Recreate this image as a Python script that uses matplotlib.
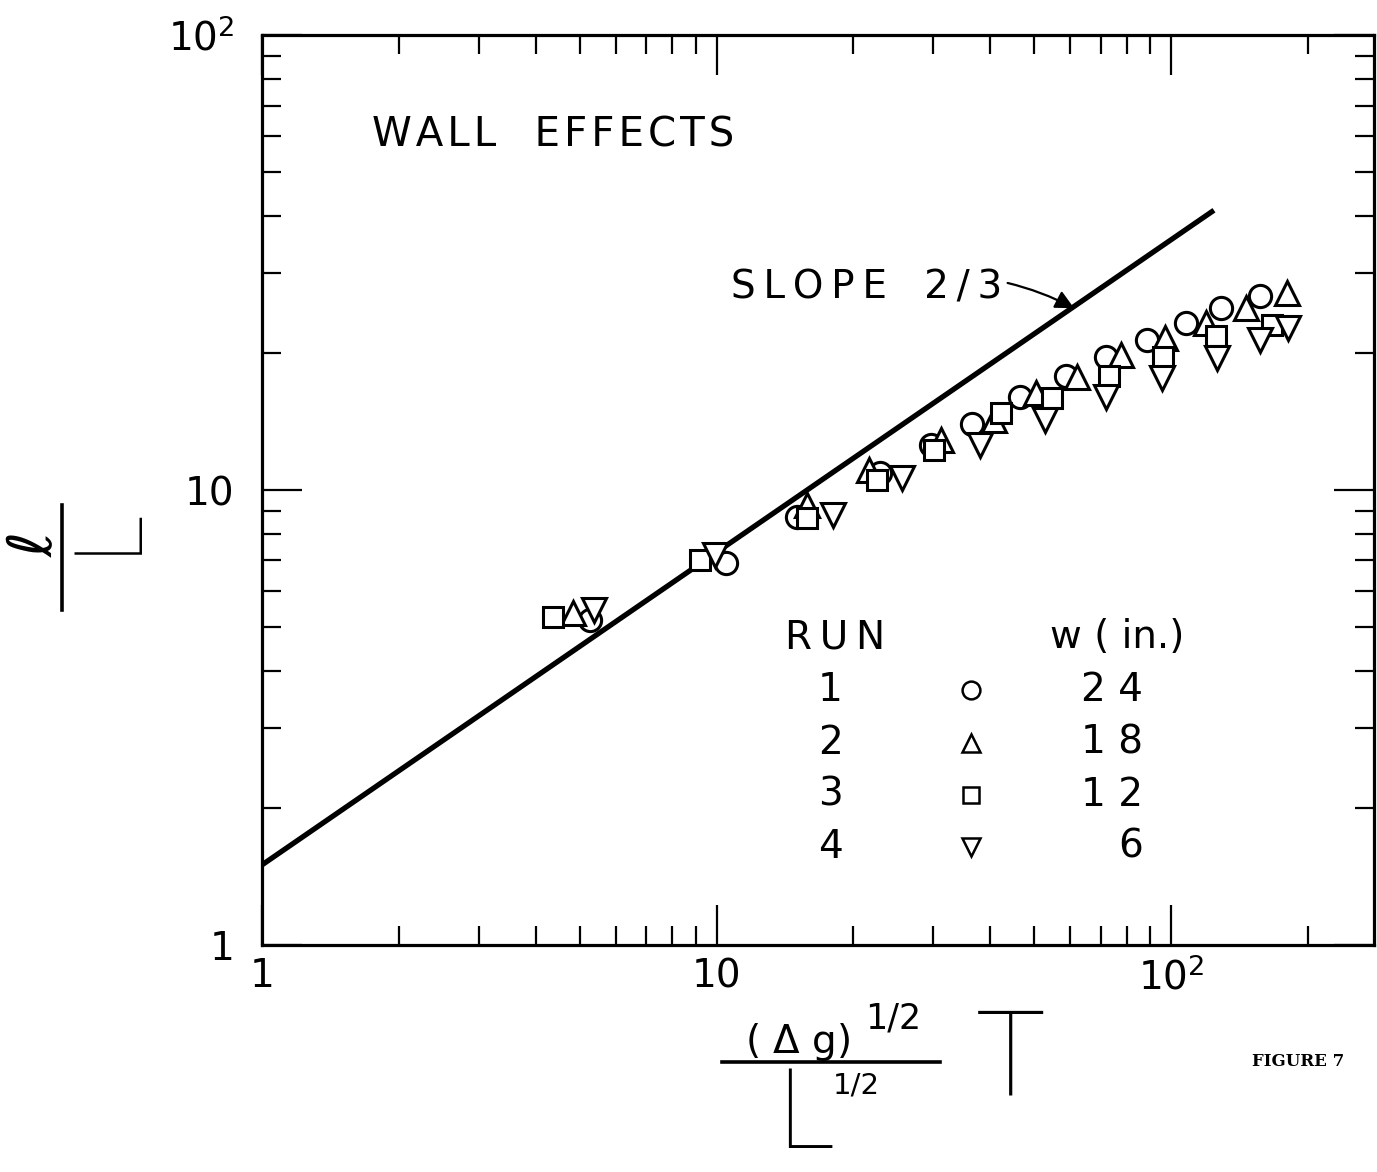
import matplotlib.pyplot as plt
from matplotlib.lines import Line2D
from matplotlib.ticker import FixedLocator, FixedFormatter, NullFormatter

# Run 1 (w = 24 in.)  circles
run1_x = [5.26, 10.47, 15.07, 22.9, 29.7, 36.5, 46.6, 58.8, 72.0, 88.5, 107.9, 128.8, 157.0]
run1_y = [5.18, 6.91, 8.72, 10.9, 12.56, 14.0, 16.0, 17.8, 19.6, 21.4, 23.3, 25.1, 26.7]
# Run 2 (w = 18 in.)  triangles
run2_x = [4.83, 15.85, 21.7, 31.2, 40.8, 50.5, 62.1, 77.6, 97.0, 119.4, 146.2, 179.8]
run2_y = [5.37, 9.27, 11.07, 12.88, 14.25, 16.3, 17.7, 19.8, 21.6, 23.3, 25.1, 27.1]
# Run 3 (w = 12 in.)  squares
run3_x = [4.36, 9.18, 15.85, 22.5, 30.1, 42.3, 54.8, 73.1, 96.0, 125.6, 166.7]
run3_y = [5.26, 7.02, 8.68, 10.5, 12.24, 14.8, 15.9, 17.8, 19.6, 21.8, 23.0]
# Run 4 (w = 6 in.)  inverted triangles
run4_x = [5.37, 9.9, 18.07, 25.6, 38.0, 52.8, 72.0, 95.5, 126.2, 157.0, 180.8]
run4_y = [5.45, 7.2, 8.81, 10.63, 12.56, 14.25, 16.0, 17.6, 19.5, 21.4, 22.7]

# slope 2/3 reference line
line_x = [1.0, 124.3]
line_y = [1.5, 41.2]

runs = ['1', '2', '3', '4']
widths = ['24', '18', '12', '6']
markers = ['o', '^', 's', 'v']

x_major = [1, 10, 100]
x_labels = ['1', '10', '$10^2$']
y_major = [1, 10, 100]
y_labels = ['1', '10', '$10^2$']

plt.rcParams['font.family'] = ['DejaVu Sans']
THIN = '\u2009'
HAIR = '\u200a'
THIN_FONT = ['Roboto', 'DejaVu Sans']


def spaced(s, sep=THIN):
    # lettering on the original is widely spaced
    return sep.join(s)


fig = plt.figure(figsize=(13.77, 11.72), dpi=100)
ax = fig.add_axes([0.1903, 0.1937, 0.8077, 0.7764])
ax.set_xscale('log')
ax.set_yscale('log')
ax.set_xlim(1, 280)
ax.set_ylim(1, 100)

ax.plot(line_x, line_y, color='black', lw=3.8, solid_capstyle='butt', zorder=2)

series = [(run1_x, run1_y), (run2_x, run2_y), (run3_x, run3_y), (run4_x, run4_y)]
sizes = {'o': 16, '^': 17, 's': 14, 'v': 17}
for (xs, ys), m in zip(series, markers):
    ax.plot(xs, ys, linestyle='none', marker=m, ms=sizes[m], mfc='white',
            mec='black', mew=2.2, zorder=3)

ax.xaxis.set_major_locator(FixedLocator(x_major))
ax.xaxis.set_major_formatter(FixedFormatter(x_labels))
ax.yaxis.set_major_locator(FixedLocator(y_major))
ax.yaxis.set_major_formatter(FixedFormatter(y_labels))
ax.xaxis.set_minor_formatter(NullFormatter())
ax.yaxis.set_minor_formatter(NullFormatter())

ax.tick_params(which='both', direction='in', top=True, right=True,
               width=1.6, labelsize=28, color='black')
ax.tick_params(which='major', length=29)
ax.tick_params(which='minor', length=14)
ax.tick_params(axis='x', pad=9)
ax.tick_params(axis='y', pad=20)
for s in ax.spines.values():
    s.set_linewidth(2.3)

ax.text(0.099, 0.89, spaced('WALL', HAIR) + '   ' + spaced('EFFECTS', HAIR),
        transform=ax.transAxes, fontsize=29, ha='left', va='center')

ax.annotate(spaced('SLOPE') + '   ' + spaced('2/3'), xy=(61.2, 25.1),
            xytext=(42.5, 27.9), fontsize=28, ha='right', va='center',
            arrowprops=dict(arrowstyle='-|>', color='black', lw=1.6,
                            mutation_scale=28,
                            connectionstyle='arc3,rad=-0.2',
                            shrinkA=2, shrinkB=0))

# legend table
ax.text(0.515, 0.338, spaced('RUN'), transform=ax.transAxes, fontsize=28,
        ha='center', va='center')
ax.text(0.769, 0.338, 'w ( in.)', transform=ax.transAxes, fontsize=28,
        ha='center', va='center')
row_y = [0.280, 0.222, 0.165, 0.108]
for r, w, m, yy in zip(runs, widths, markers, row_y):
    ax.text(0.511, yy, r, transform=ax.transAxes, fontsize=28,
            ha='center', va='center')
    ax.plot([0.637], [yy], transform=ax.transAxes, marker=m,
            ms=sizes[m] * 0.8, mfc='white', mec='black', mew=1.8,
            linestyle='none', clip_on=False)
    ax.text(0.792, yy, ' '.join(w), transform=ax.transAxes, fontsize=28,
            ha='right', va='center')

# x axis label: (dg)^1/2 / L^1/2 * T
fig.text(797 / 1377, 1 - 1042 / 1172, r'( $\Delta$ g)', fontsize=28,
         ha='center', va='center')
fig.text(893 / 1377, 1 - 1018 / 1172, '1/2', fontsize=25, ha='center',
         va='center')
fig.add_artist(Line2D([722 / 1377, 940 / 1377], [1 - 1062 / 1172] * 2,
                      color='black', lw=2.6, transform=fig.transFigure))
fig.text(806 / 1377, 1 - 1171 / 1172, 'L', fontsize=80, ha='center',
         va='bottom', family=THIN_FONT, fontweight=100)
fig.text(856 / 1377, 1 - 1086 / 1172, '1/2', fontsize=21, ha='center',
         va='center')
fig.text(1010 / 1377, 1 - 1062 / 1172, 'T', fontsize=86, ha='center',
         va='center', family=THIN_FONT, fontweight=100)

# y axis label: l / L (rotated)
fig.text(36 / 1377, 1 - 545 / 1172, r'$\ell$', fontsize=44, rotation=90,
         ha='center', va='center')
fig.add_artist(Line2D([62 / 1377] * 2, [1 - 505 / 1172, 1 - 610 / 1172],
                      color='black', lw=2.6, transform=fig.transFigure))
fig.text(108 / 1377, 1 - 530 / 1172, 'L', fontsize=68, rotation=90,
         ha='center', va='center', family=THIN_FONT, fontweight=100)

fig.text(1298 / 1377, 1 - 1062 / 1172, 'FIGURE 7', fontsize=12,
         family='DejaVu Serif', fontweight='bold', ha='center', va='center')

fig.savefig('out.png', dpi=100)
